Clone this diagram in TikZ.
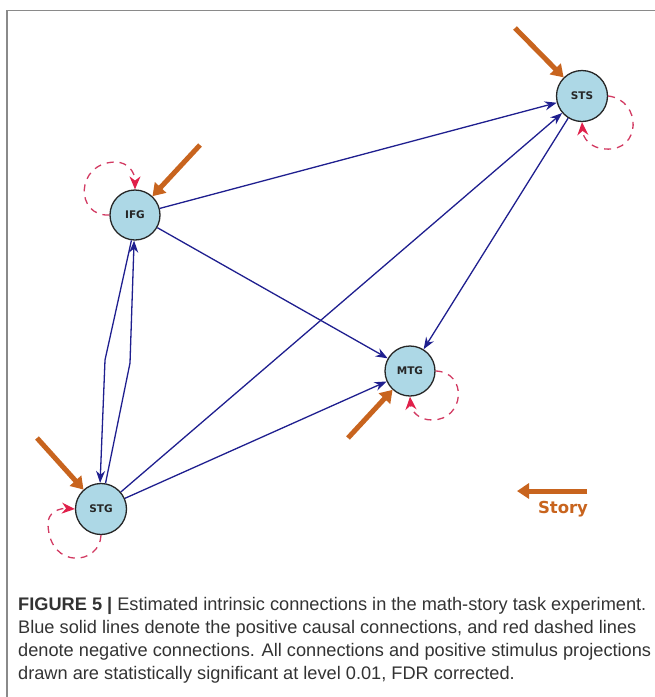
\documentclass[tikz,border=0pt]{standalone}
\usepackage{fontspec}
\setmainfont{Liberation Sans}
\newfontfamily\nodefont{DejaVu Sans}
\usetikzlibrary{arrows.meta}
\definecolor{nodefill}{HTML}{ADD8E6}
\definecolor{edgeblue}{HTML}{1F1F8F}
\definecolor{negred}{HTML}{D23A62}
\definecolor{tipred}{HTML}{E0204A}
\definecolor{stimorange}{HTML}{C8641E}
\definecolor{captext}{HTML}{333333}
\definecolor{framegray}{HTML}{8A8A8A}
\begin{document}
\begin{tikzpicture}[x=1pt,y=-1pt,
  region/.style={circle, draw=black!85, line width=1.3pt, fill=nodefill, minimum size=50pt, inner sep=0pt,
    font=\nodefont\bfseries\fontsize{10.5}{12}\selectfont, text=black!85},
  posedge/.style={draw=edgeblue, line width=1.3pt, -{Stealth[length=12pt,width=9pt]}},
  negedge/.style={draw=negred, line width=1.3pt, dash pattern=on 7pt off 6pt, -{Stealth[length=13pt,width=11pt,color=tipred]}},
  stim/.style={draw=stimorange, line width=5pt, -{Triangle[length=12pt,width=15pt]}},
  captionline/.style={anchor=base west, inner sep=0pt, text=captext, font=\fontsize{18.2}{21}\selectfont}
]
\useasboundingbox (0,0) rectangle (655,697);
% frame
\draw[framegray, line width=1.5pt] (655,10.5) -- (7,10.5) -- (7,697);

% regions
\node[region] (IFG) at (135,215) {IFG};
\node[region, minimum size=51pt] (STS) at (582,96) {STS};
\node[region] (MTG) at (410,371) {MTG};
\node[region, minimum size=51pt] (STG) at (101,509) {STG};

% positive connections
\draw[posedge] (IFG) -- (STS);
\draw[posedge] (STG) -- (STS);
\draw[posedge] (IFG) -- (MTG);
\draw[posedge] (STS) -- (MTG);
\draw[posedge] (STG) -- (MTG);
\coordinate (bendL) at (105,360);
\coordinate (bendR) at (130,363);
\draw[posedge] (IFG.262) -- (bendL) -- (STG.92);
\draw[posedge] (STG.80) -- (bendR) -- (IFG.268);

% negative self connections
\draw[negedge] (IFG.west) .. controls (75,217) and (75,163) .. (115,162) .. controls (128,162) and (135,172) .. (IFG.north);
\draw[negedge] (STS.east) .. controls (642,100) and (642,152) .. (605,149) .. controls (590,148) and (583,138) .. (STS.south);
\draw[negedge] (MTG.east) .. controls (468,372) and (465,420) .. (432,420) .. controls (418,420) and (411,410) .. (MTG.south);
\draw[negedge] (STG.south) .. controls (100,565) and (50,570) .. (48,525) .. controls (47,512) and (60,508) .. (STG.west);

% stimulus inputs
\coordinate (sSTS) at (515,28);
\coordinate (sIFG) at (200,145);
\coordinate (sMTG) at (348,438);
\coordinate (sSTG) at (37,438);
\draw[stim] (sSTS) -- (STS);
\draw[stim] (sIFG) -- (IFG);
\draw[stim] (sMTG) -- (MTG);
\draw[stim] (sSTG) -- (STG);

% legend
\coordinate (legA) at (587,491);
\coordinate (legB) at (517,491);
\draw[stim] (legA) -- (legB);
\node[text=stimorange, font=\nodefont\bfseries\fontsize{16.5}{20}\selectfont, inner sep=0pt] (story) at (563,509) {Story};

% caption
\node[captionline] (cap1) at (18,610) {\textbf{FIGURE 5 |} Estimated intrinsic connections in the math-story task experiment.};
\node[captionline] (cap2) at (18,633) {Blue solid lines denote the positive causal connections, and red dashed lines};
\node[captionline] (cap3) at (18,656) {denote negative connections. All connections and positive stimulus projections};
\node[captionline] (cap4) at (18,679) {drawn are statistically significant at level 0.01, FDR corrected.};
\end{tikzpicture}
\end{document}
